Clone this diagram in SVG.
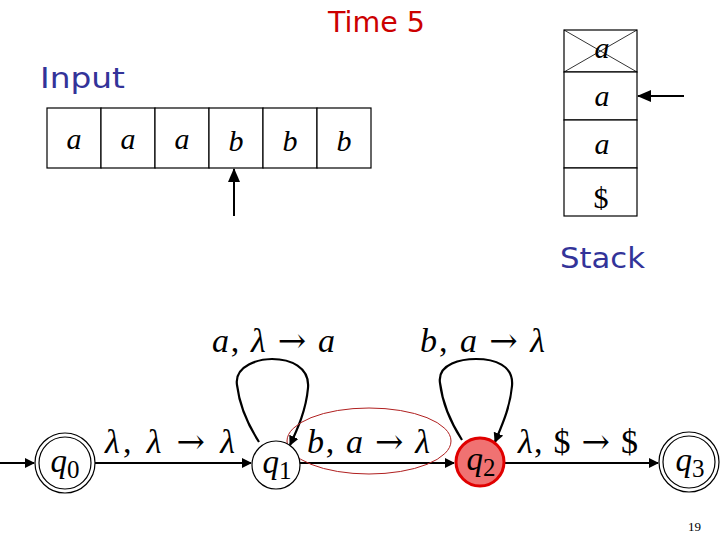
<svg xmlns="http://www.w3.org/2000/svg" width="720" height="540" viewBox="0 0 720 540">
<style>
.title{font-family:"DejaVu Sans",sans-serif;font-size:28px}
.cell{fill:#fff;stroke:#000;stroke-width:1.2}
.sym{font-family:"Liberation Serif",serif;font-style:italic;font-size:30px;text-anchor:middle}
.lbl{font-family:"Liberation Serif",serif;font-size:34px}
.it{font-style:italic}
.ar{font-family:"DejaVu Serif",serif;font-size:34px}
.st{fill:#fff;stroke:#000;stroke-width:1.2}
.q{font-family:"Liberation Serif",serif;font-size:33px;text-anchor:middle}
.edge{fill:none;stroke:#000;stroke-width:2.2}
</style>
<defs>
<marker id="ah" markerWidth="10" markerHeight="10" refX="9" refY="5" orient="auto" markerUnits="userSpaceOnUse" viewBox="0 0 10 10">
<path d="M0,0 L10,5 L0,10 z" fill="#000"/>
</marker>
<marker id="ah2" markerWidth="14" markerHeight="14" refX="13" refY="7" orient="auto" markerUnits="userSpaceOnUse" viewBox="0 0 14 14">
<path d="M0,1 L14,7 L0,13 z" fill="#000"/>
</marker>
</defs>
<rect width="720" height="540" fill="#fff"/>
<text class="title" x="328" y="32" fill="#cc0000" textLength="97" lengthAdjust="spacingAndGlyphs">Time 5</text>
<text class="title" x="40" y="88" fill="#333399" textLength="85" lengthAdjust="spacingAndGlyphs">Input</text>
<text class="title" x="560" y="268" fill="#333399" textLength="85" lengthAdjust="spacingAndGlyphs">Stack</text>
<g id="tape">
<rect class="cell" x="47" y="108" width="54" height="60"/>
<rect class="cell" x="101" y="108" width="54" height="60"/>
<rect class="cell" x="155" y="108" width="54" height="60"/>
<rect class="cell" x="209" y="108" width="54" height="60"/>
<rect class="cell" x="263" y="108" width="54" height="60"/>
<rect class="cell" x="317" y="108" width="54" height="60"/>
<text class="sym" x="74" y="149">a</text>
<text class="sym" x="128" y="149">a</text>
<text class="sym" x="182" y="149">a</text>
<text class="sym" x="236" y="151">b</text>
<text class="sym" x="290" y="151">b</text>
<text class="sym" x="344" y="151">b</text>
<line x1="234" y1="216" x2="234" y2="169" stroke="#000" stroke-width="2" marker-end="url(#ah2)"/>
</g>
<g id="stack">
<rect class="cell" x="564" y="30" width="73" height="42"/>
<line x1="564" y1="30" x2="637" y2="72" stroke="#000" stroke-width="0.8"/>
<line x1="637" y1="30" x2="564" y2="72" stroke="#000" stroke-width="0.8"/>
<rect class="cell" x="564" y="72" width="73" height="48"/>
<rect class="cell" x="564" y="120" width="73" height="48"/>
<rect class="cell" x="564" y="168" width="73" height="48"/>
<text class="sym" x="602" y="58" font-size="26">a</text>
<text class="sym" x="602" y="106" font-size="26">a</text>
<text class="sym" x="602" y="154" font-size="26">a</text>
<text x="601" y="208" font-family="Liberation Serif,serif" font-size="30" text-anchor="middle">$</text>
<line x1="684" y1="96" x2="638" y2="96" stroke="#000" stroke-width="2" marker-end="url(#ah2)"/>
</g>
<g id="connectors">
<line class="edge" x1="0" y1="463" x2="34" y2="463" marker-end="url(#ah)"/>
<line class="edge" x1="95" y1="463" x2="251" y2="463" marker-end="url(#ah)"/>
<line class="edge" x1="300" y1="463" x2="454" y2="463" marker-end="url(#ah)"/>
<line class="edge" x1="505" y1="463" x2="658" y2="463" marker-end="url(#ah)"/>
<path class="edge" d="M259,442 C250,428 240,410 237,385 C234,365 260,359 272,359 C290,359 310,367 308,388 C306,410 298,428 290,445" marker-end="url(#ah)"/>
<path class="edge" d="M462,440 C453,426 443,408 440,383 C437,363 463,359 476,359 C494,359 514,365 512,386 C510,408 502,425 495,442" marker-end="url(#ah)"/>
<ellipse cx="369" cy="441" rx="82" ry="33" fill="none" stroke="#b02020" stroke-width="1"/>
<text class="lbl" x="212" y="352" textLength="123"><tspan class="it">a</tspan>, <tspan class="it">λ</tspan> <tspan class="ar">→</tspan> <tspan class="it">a</tspan></text>
<text class="lbl" x="420" y="352" textLength="125"><tspan class="it">b</tspan>, <tspan class="it">a</tspan> <tspan class="ar">→</tspan> <tspan class="it">λ</tspan></text>
<text class="lbl" x="105" y="453" textLength="130"><tspan class="it">λ</tspan>, <tspan class="it">λ</tspan> <tspan class="ar">→</tspan> <tspan class="it">λ</tspan></text>
<text class="lbl" x="307" y="453" textLength="123"><tspan class="it">b</tspan>, <tspan class="it">a</tspan> <tspan class="ar">→</tspan> <tspan class="it">λ</tspan></text>
<text class="lbl" x="518" y="453" textLength="120"><tspan class="it">λ</tspan>, $ <tspan class="ar">→</tspan> $</text>
</g>
<g id="q0">
<circle class="st" cx="65" cy="463" r="30"/>
<circle class="st" cx="65" cy="463" r="26"/>
<text class="q" x="65" y="472"><tspan font-style="italic">q</tspan><tspan font-size="25" dy="6">0</tspan></text>
</g>
<g id="q1">
<circle class="st" cx="276" cy="465" r="24"/>
<text class="q" x="277" y="473"><tspan font-style="italic">q</tspan><tspan font-size="25" dy="6">1</tspan></text>
</g>
<g id="q2">
<circle cx="480" cy="462" r="24" fill="#f07272" stroke="#e00000" stroke-width="3"/>
<text class="q" x="481" y="470"><tspan font-style="italic">q</tspan><tspan font-size="25" dy="6">2</tspan></text>
</g>
<g id="q3">
<circle class="st" cx="689" cy="462" r="30"/>
<circle class="st" cx="689" cy="462" r="26"/>
<text class="q" x="690" y="471"><tspan font-style="italic">q</tspan><tspan font-size="25" dy="6">3</tspan></text>
</g>
<text x="688" y="531" font-family="Liberation Serif,serif" font-size="13">19</text>
</svg>
